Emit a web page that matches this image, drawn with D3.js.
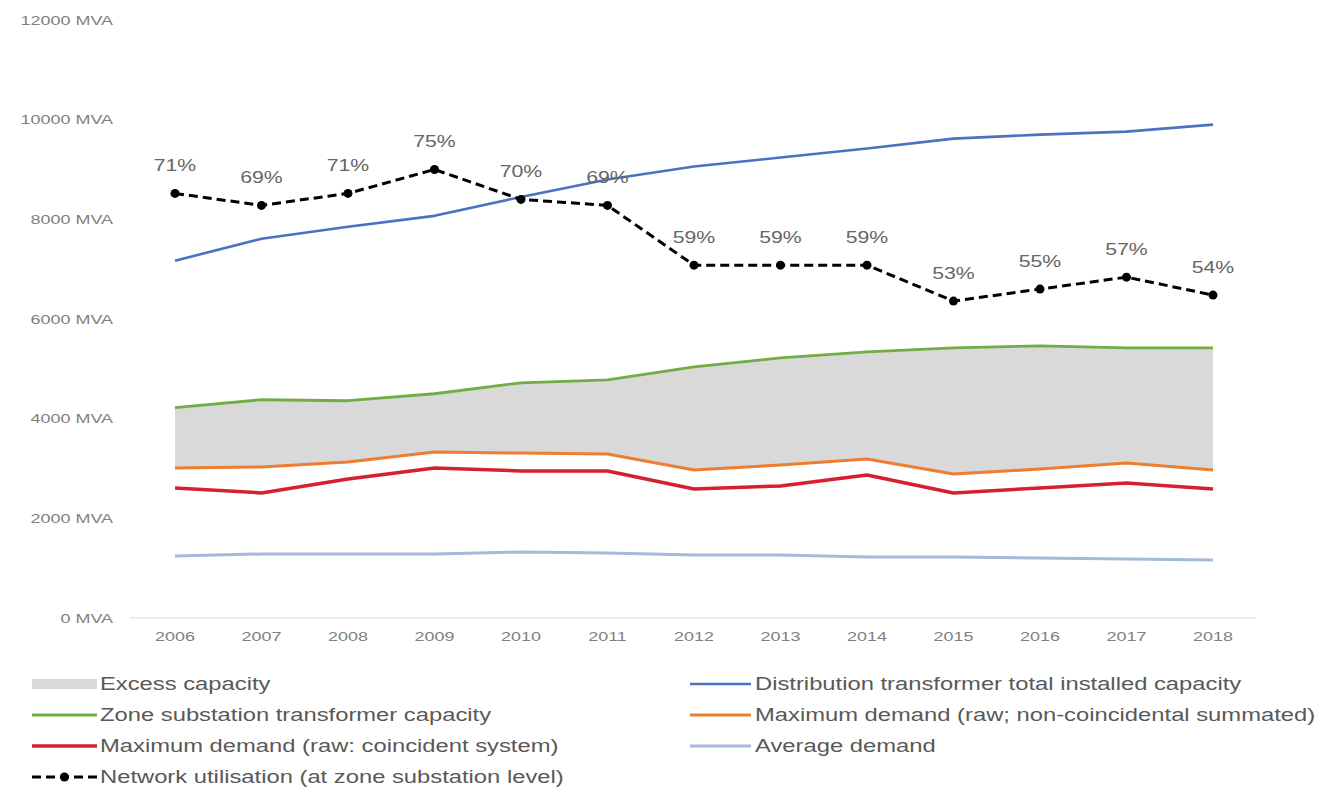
<!DOCTYPE html>
<html>
<head>
<meta charset="utf-8">
<script src="https://cdn.jsdelivr.net/npm/d3@7"></script>
<style>
  html, body { margin: 0; padding: 0; background: #ffffff; }
  svg { display: block; }
  text { font-family: "Liberation Sans", Arial, sans-serif; }
</style>
</head>
<body>
<svg id="chart" width="1328" height="791"></svg>
<script>
// ---- data ----
const years = ["2006","2007","2008","2009","2010","2011","2012","2013","2014","2015","2016","2017","2018"];
const distCapacity     = [7170, 7610, 7850, 8070, 8450, 8800, 9060, 9240, 9420, 9620, 9700, 9760, 9900];
const zoneCapacity     = [4220, 4380, 4360, 4500, 4720, 4780, 5040, 5220, 5340, 5420, 5460, 5420, 5420];
const maxDemandNonCoin = [3010, 3030, 3130, 3330, 3310, 3290, 2970, 3070, 3190, 2890, 2990, 3110, 2970];
const maxDemandCoin    = [2610, 2510, 2790, 3010, 2950, 2950, 2590, 2650, 2870, 2510, 2610, 2710, 2590];
const avgDemand        = [1245, 1285, 1285, 1285, 1325, 1305, 1265, 1265, 1225, 1225, 1205, 1185, 1165];
const utilisation      = [71, 69, 71, 75, 70, 69, 59, 59, 59, 53, 55, 57, 54];
const yTicks = [0, 2000, 4000, 6000, 8000, 10000, 12000];

const svg = d3.select("#chart");

// ---- scales ----
const x = d3.scalePoint().domain(years).range([175, 1213]);
const y = d3.scaleLinear().domain([0, 12000]).range([618, 20]);
const yPct = d3.scaleLinear().domain([0, 100]).range([618, 20]);

// text drawn with a slight horizontal stretch
function label(g, px, py, str, opts) {
  return g.append("text")
    .attr("transform", `translate(${px},${py}) scale(${opts.sx || 1.33},1)`)
    .attr("text-anchor", opts.anchor || "start")
    .attr("dominant-baseline", "central")
    .attr("font-size", opts.size)
    .attr("fill", opts.fill)
    .text(str);
}

// ---- axes ----
const axisG = svg.append("g");
axisG.append("line")
  .attr("x1", 130).attr("x2", 1256)
  .attr("y1", y(0)).attr("y2", y(0))
  .attr("stroke", "#d9d9d9").attr("stroke-width", 1.2);

yTicks.forEach(v => label(axisG, 113, y(v), `${v} MVA`, {anchor: "end", size: 13.5, fill: "#808080"}));
years.forEach(yr => label(axisG, x(yr), 636, yr, {anchor: "middle", size: 13.5, fill: "#808080"}));

// ---- excess capacity band ----
const idx = d3.range(years.length);
svg.append("path")
  .attr("d", d3.area()
    .x(i => x(years[i]))
    .y0(i => y(maxDemandNonCoin[i]))
    .y1(i => y(zoneCapacity[i]))(idx))
  .attr("fill", "#d9d9d9");

// ---- lines ----
const lineOf = arr => d3.line().x(i => x(years[i])).y(i => y(arr[i]))(idx);
const series = [
  {data: avgDemand,        color: "#a6b9d8", w: 3},
  {data: maxDemandCoin,    color: "#d6202f", w: 3.5},
  {data: maxDemandNonCoin, color: "#ed7d31", w: 3},
  {data: zoneCapacity,     color: "#70ad47", w: 2.8},
  {data: distCapacity,     color: "#4a72c0", w: 2.6}
];
series.forEach(s => {
  svg.append("path")
    .attr("d", lineOf(s.data))
    .attr("fill", "none")
    .attr("stroke", s.color)
    .attr("stroke-width", s.w)
    .attr("stroke-linejoin", "round");
});

// ---- network utilisation (secondary percentage axis, hidden) ----
svg.append("path")
  .attr("d", d3.line().x(i => x(years[i])).y(i => yPct(utilisation[i]))(idx))
  .attr("fill", "none")
  .attr("stroke", "#000000")
  .attr("stroke-width", 3)
  .attr("stroke-dasharray", "9,5");
svg.append("g").selectAll("circle").data(idx).join("circle")
  .attr("cx", i => x(years[i]))
  .attr("cy", i => yPct(utilisation[i]))
  .attr("r", 4.5)
  .attr("fill", "#000000");
const pctG = svg.append("g");
idx.forEach(i => label(pctG, x(years[i]), yPct(utilisation[i]) - 28, `${utilisation[i]}%`, {anchor: "middle", size: 16, fill: "#666666"}));

// ---- legend ----
const legend = svg.append("g");
const legendItems = [
  {name: "Excess capacity", type: "area", color: "#d9d9d9", col: 0, row: 0},
  {name: "Zone substation transformer capacity", type: "line", color: "#70ad47", w: 2.8, col: 0, row: 1},
  {name: "Maximum demand (raw: coincident system)", type: "line", color: "#d6202f", w: 3.5, col: 0, row: 2},
  {name: "Network utilisation (at zone substation level)", type: "dash", color: "#000000", w: 3, col: 0, row: 3},
  {name: "Distribution transformer total installed capacity", type: "line", color: "#4a72c0", w: 2.6, col: 1, row: 0},
  {name: "Maximum demand (raw; non-coincidental summated)", type: "line", color: "#ed7d31", w: 3, col: 1, row: 1},
  {name: "Average demand", type: "line", color: "#a6b9d8", w: 3, col: 1, row: 2}
];
const colX = [[32, 97, 100], [690, 751, 755]];
legendItems.forEach(it => {
  const [x0, x1, tx] = colX[it.col];
  const cy = 684 + it.row * 31;
  if (it.type === "area") {
    legend.append("rect").attr("x", x0).attr("y", cy - 5).attr("width", x1 - x0).attr("height", 10).attr("fill", it.color);
  } else {
    legend.append("line").attr("x1", x0).attr("x2", x1).attr("y1", cy).attr("y2", cy)
      .attr("stroke", it.color).attr("stroke-width", it.w)
      .attr("stroke-dasharray", it.type === "dash" ? "9,5" : null);
    if (it.type === "dash") {
      legend.append("circle").attr("cx", (x0 + x1) / 2).attr("cy", cy).attr("r", 4.5).attr("fill", it.color);
    }
  }
  label(legend, tx, cy, it.name, {anchor: "start", size: 18.5, fill: "#595959", sx: 1.285});
});
</script>
</body>
</html>
